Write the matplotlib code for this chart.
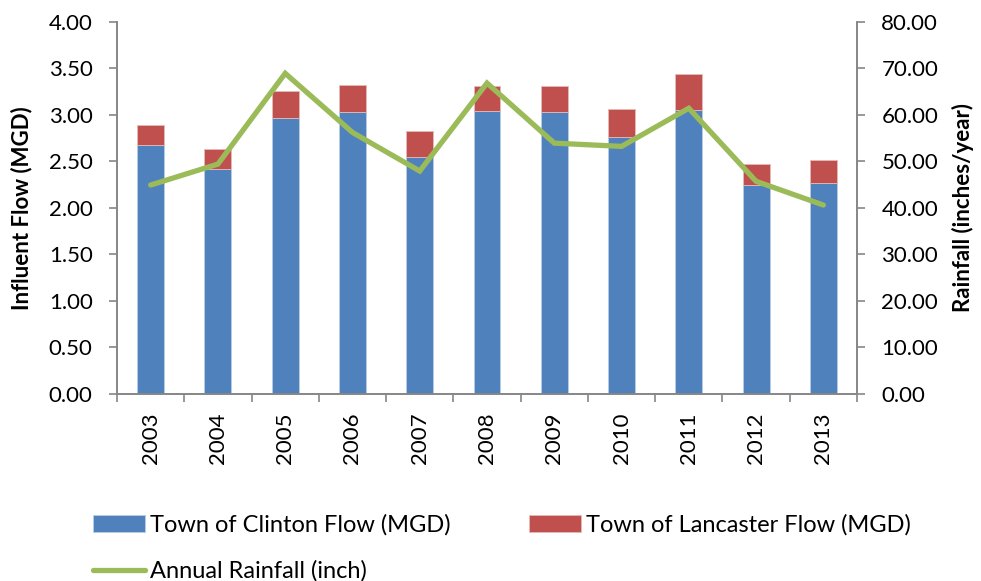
import matplotlib.pyplot as plt
import numpy as np

years = ['2003', '2004', '2005', '2006', '2007', '2008', '2009', '2010', '2011', '2012', '2013']
clinton = [2.68, 2.42, 2.96, 3.03, 2.55, 3.04, 3.03, 2.76, 3.05, 2.24, 2.27]
lancaster = [0.21, 0.21, 0.30, 0.29, 0.28, 0.27, 0.28, 0.30, 0.39, 0.23, 0.24]
rainfall = [44.9, 49.4, 68.9, 56.2, 47.9, 66.8, 53.9, 53.2, 61.4, 45.7, 40.6]

plt.rcParams['font.family'] = ['Lato', 'DejaVu Sans']
axis_grey = '#868686'
fs = 16

fig = plt.figure(figsize=(9.81, 5.81), dpi=100)
ax = fig.add_axes([0.1193, 0.3219, 0.7543, 0.6408])
x = np.arange(len(years))

b1 = ax.bar(x, clinton, width=0.4, color='#4F81BD', edgecolor='#B9CDE5', linewidth=0.6,
            label='Town of Clinton Flow (MGD)')
b2 = ax.bar(x, lancaster, width=0.4, bottom=clinton, color='#C0504D', edgecolor='#E6B9B8',
            linewidth=0.6, label='Town of Lancaster Flow (MGD)')

ax.set_xlim(-0.5, len(years) - 0.5)
ax.set_ylim(0, 4)
ax.set_yticks(np.arange(0, 4.01, 0.5))
ax.set_yticklabels([f'{v:.2f}' for v in np.arange(0, 4.01, 0.5)], fontsize=fs)
ax.set_xticks(x)
ax.set_xticklabels(years, rotation=90, fontsize=fs)
ax.tick_params(axis='x', length=0, pad=13)
# category boundary ticks, Excel style
ax.set_xticks(np.arange(-0.5, len(years)), minor=True)
ax.tick_params(axis='x', which='minor', length=5.5, color=axis_grey, width=1.2)
ax.tick_params(axis='y', length=5.5, color=axis_grey, width=1.2, pad=12)
ax.set_ylabel('Influent Flow (MGD)', fontsize=fs, fontweight='bold', labelpad=12)

ax2 = ax.twinx()
line, = ax2.plot(x, rainfall, color='#9BBB59', linewidth=3.8, solid_capstyle='round',
                 solid_joinstyle='miter', label='Annual Rainfall (inch)')
ax2.set_ylim(0, 80)
ax2.set_yticks(np.arange(0, 80.1, 10))
ax2.set_yticklabels([f'{v:.2f}' for v in np.arange(0, 80.1, 10)], fontsize=fs)
ax2.tick_params(axis='y', length=5.5, color=axis_grey, width=1.2, pad=12)
ax2.set_ylabel('Rainfall (inches/year)', fontsize=fs, fontweight='bold', labelpad=10)

for a in (ax, ax2):
    a.spines['top'].set_visible(False)
    for s in ('left', 'right', 'bottom'):
        a.spines[s].set_color(axis_grey)
        a.spines[s].set_linewidth(1.2)

fig.legend(handles=[b1, line, b2], loc='upper left', bbox_to_anchor=(0.0948, 0.115),
           ncol=2, frameon=False, fontsize=17, handlelength=2.2, handleheight=0.7,
           handletextpad=0.22, columnspacing=3.3, labelspacing=1.05,
           borderpad=0, borderaxespad=0)

fig.savefig('out.png', dpi=100)
